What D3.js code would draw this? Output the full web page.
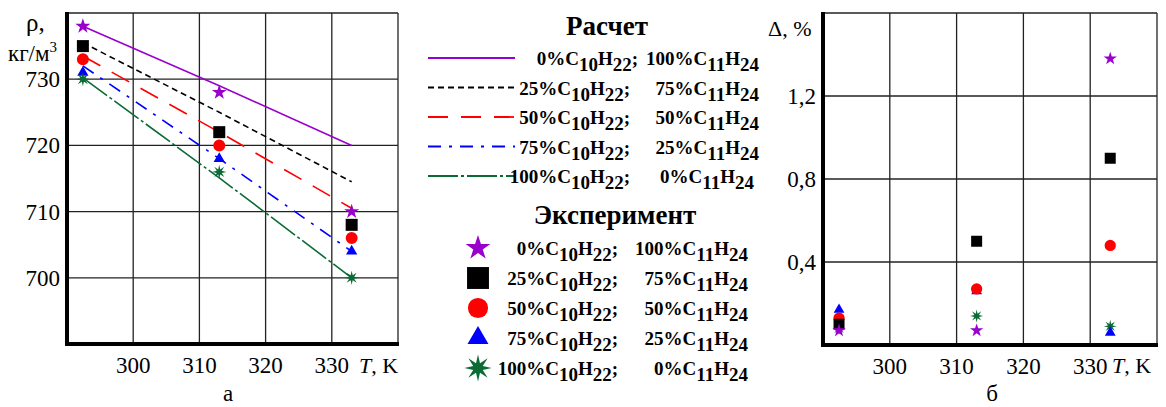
<!DOCTYPE html>
<html>
<head>
<meta charset="utf-8">
<script src="https://cdn.jsdelivr.net/npm/d3@7"></script>
<style>
  body { margin: 0; background: #fff; }
  svg text { font-family: 'Liberation Serif', 'Times New Roman', Times, serif; fill: #000; }
</style>
</head>
<body>
<svg width="1166" height="407" font-family="Liberation Serif, Times New Roman, serif"></svg>
<script>
// temperatures of the measurements, K
const temps = [292.4, 313, 333];
// mixture labels: C10H22 share, C11H24 share
const shareC10 = ['0%', '25%', '50%', '75%', '100%'];
const shareC11 = ['100%', '75%', '50%', '25%', '0%'];
// calculated density (lines), kg/m3
const calc0 = [738, 729, 720];
const calc25 = [735.5, 725, 714.5];
const calc50 = [733.5, 722, 710.5];
const calc75 = [732, 718, 704];
const calc100 = [730.2, 715.1, 700];
// experimental density (markers), kg/m3
const exp0 = [738, 728, 710];
const exp25 = [735, 722, 708];
const exp50 = [733, 720, 706];
const exp75 = [731, 718, 704];
const exp100 = [730, 716, 700];
// deviation, %
const dev0 = [0.07, 0.07, 1.38];
const dev25 = [0.1, 0.5, 0.9];
const dev50 = [0.13, 0.27, 0.48];
const dev75 = [0.17, 0.26, 0.06];
const dev100 = [0.08, 0.14, 0.09];
// axis ticks
const xTicks = [300, 310, 320, 330];
const rhoTicks = [700, 710, 720, 730];
const devTicks = [0.4, 0.8, 1.2];

const colors = ['#9900cc', '#000000', '#ff0000', '#0000ff', '#0b6b35'];
const dashes = [null, '6,4', '20,13', '13,8,3,8', '30,3,3,3'];
const calcSets = [calc0, calc25, calc50, calc75, calc100];
const expSets = [exp0, exp25, exp50, exp75, exp100];
const devSets = [dev0, dev25, dev50, dev75, dev100];

// 8-point star used for the 100% C10H22 series
const star8 = {
  draw(ctx, size) {
    const r = Math.sqrt(size) * 0.75, ri = r * 0.38;
    for (let i = 0; i < 16; i++) {
      const a = i * Math.PI / 8 - Math.PI / 2;
      const rr = i % 2 ? ri : r;
      if (i === 0) ctx.moveTo(rr * Math.cos(a), rr * Math.sin(a));
      else ctx.lineTo(rr * Math.cos(a), rr * Math.sin(a));
    }
    ctx.closePath();
  }
};
const shapes = [d3.symbolStar, d3.symbolSquare, d3.symbolCircle, d3.symbolTriangle, star8];
const sizeSmall = [70, 144, 113, 55, 90];
const sizeRight = [55, 121, 100, 50, 75];
const sizeLegend = [190, 480, 320, 190, 330];

const ru = d3.formatLocale({decimal: ',', thousands: ' ', grouping: [3], currency: ['', '']});
const fmtDev = ru.format('.1f');

const svg = d3.select('svg');

function drawFrame(x, y, yTicks, yFmt) {
  const g = svg.append('g');
  const [x0, x1] = x.range();
  const [y0, y1] = y.range();
  // grid incl. frame edges
  g.selectAll('.vg').data(d3.range(x.domain()[0], x.domain()[1] + 1, 10)).enter()
    .append('line')
    .attr('x1', d => x(d)).attr('x2', d => x(d))
    .attr('y1', y0).attr('y2', y1)
    .attr('stroke', '#222').attr('stroke-width', 1.3);
  g.selectAll('.hg').data([y.domain()[1]].concat(yTicks)).enter()
    .append('line')
    .attr('x1', x0).attr('x2', x1)
    .attr('y1', d => y(d)).attr('y2', d => y(d))
    .attr('stroke', '#222').attr('stroke-width', 1.3);
  // thick axes
  g.append('line').attr('x1', x0).attr('x2', x0).attr('y1', y0 + 2).attr('y2', y1 - 1)
    .attr('stroke', '#000').attr('stroke-width', 4);
  g.append('line').attr('x1', x0 - 2).attr('x2', x1 + 1).attr('y1', y0).attr('y2', y0)
    .attr('stroke', '#000').attr('stroke-width', 4);
  // tick labels
  g.selectAll('.xl').data(xTicks).enter().append('text')
    .attr('x', d => x(d)).attr('y', y0 + 29)
    .attr('text-anchor', 'middle').attr('font-size', 23)
    .text(d => d);
  g.selectAll('.yl').data(yTicks).enter().append('text')
    .attr('x', x0 - 7).attr('y', d => y(d) + 8)
    .attr('text-anchor', 'end').attr('font-size', 23)
    .text(yFmt);
  return g;
}

function axisTitleT(xPos, yPos) {
  const t = svg.append('text').attr('x', xPos).attr('y', yPos).attr('font-size', 22);
  t.append('tspan').attr('font-style', 'italic').text('T');
  t.append('tspan').text(', K');
}

// ---- chart a: density ----
const xA = d3.scaleLinear().domain([290, 340]).range([67, 398]);
const yA = d3.scaleLinear().domain([690, 740]).range([344, 13]);
drawFrame(xA, yA, rhoTicks, d => d);

const line = d3.line().x((d, i) => xA(temps[i])).y(d => yA(d));
svg.append('g').selectAll('path').data(calcSets).enter().append('path')
  .attr('d', line)
  .attr('fill', 'none')
  .attr('stroke', (d, i) => colors[i])
  .attr('stroke-width', 1.6)
  .attr('stroke-dasharray', (d, i) => dashes[i]);

expSets.forEach((set, k) => {
  svg.append('g').selectAll('path').data(set).enter().append('path')
    .attr('transform', (d, i) => `translate(${xA(temps[i])},${yA(d)})`)
    .attr('d', d3.symbol().type(shapes[k]).size(sizeSmall[k]))
    .attr('fill', colors[k]);
});

svg.append('text').attr('x', 26).attr('y', 31).attr('font-size', 25).text('ρ,');
const unit = svg.append('text').attr('x', 8).attr('y', 61).attr('font-size', 23);
unit.append('tspan').text('кг/м');
unit.append('tspan').attr('dy', -9).attr('font-size', 15).text('3');
axisTitleT(359, 373);
svg.append('text').attr('x', 228).attr('y', 401).attr('text-anchor', 'middle')
  .attr('font-size', 23).text('а');

// ---- chart б: deviation ----
const xB = d3.scaleLinear().domain([290, 340]).range([823, 1157]);
const yB = d3.scaleLinear().domain([0, 1.6]).range([345, 13]);
drawFrame(xB, yB, devTicks, fmtDev);

// reverse order so the circle hides the triangle as in the original
[4, 3, 2, 1, 0].forEach(k => {
  svg.append('g').selectAll('path').data(devSets[k]).enter().append('path')
    .attr('transform', (d, i) => `translate(${xB(temps[i])},${yB(d)})`)
    .attr('d', d3.symbol().type(shapes[k]).size(sizeRight[k]))
    .attr('fill', colors[k]);
});
svg.append('text').attr('x', 768).attr('y', 36).attr('font-size', 22).text('Δ, %');
axisTitleT(1112, 373);
svg.append('text').attr('x', 992).attr('y', 401).attr('text-anchor', 'middle')
  .attr('font-size', 23).text('б');

// ---- legend ----
function formula(textSel, share, idx) {
  textSel.append('tspan').text(share);
  textSel.append('tspan').text('C');
  textSel.append('tspan').attr('dy', 6).text(idx === 10 ? '10' : '11');
  textSel.append('tspan').attr('dy', -6).text('H');
  textSel.append('tspan').attr('dy', 6).text(idx === 10 ? '22' : '24');
  if (idx === 10) textSel.append('tspan').attr('dy', -6).text(';');
}

function legendRow(yBase, k, col1, col2) {
  const t1 = svg.append('text').attr('x', col1).attr('y', yBase)
    .attr('text-anchor', 'end').attr('font-size', 19).attr('font-weight', 'bold');
  formula(t1, shareC10[k], 10);
  const t2 = svg.append('text').attr('x', col2).attr('y', yBase)
    .attr('text-anchor', 'end').attr('font-size', 19).attr('font-weight', 'bold');
  formula(t2, shareC11[k], 11);
}

svg.append('text').attr('x', 607).attr('y', 35).attr('text-anchor', 'middle')
  .attr('font-size', 27).attr('font-weight', 'bold').text('Расчет');
const calcRows = d3.scaleLinear().domain([0, 4]).range([58, 176]);
colors.forEach((c, k) => {
  const yy = calcRows(k);
  svg.append('line').attr('x1', 428).attr('x2', 515).attr('y1', yy).attr('y2', yy)
    .attr('stroke', c).attr('stroke-width', 1.8)
    .attr('stroke-dasharray', dashes[k]);
  legendRow(yy + 7, k, k === 0 ? 638 : 630, k === 4 ? 754 : 759);
});

svg.append('text').attr('x', 615).attr('y', 224).attr('text-anchor', 'middle')
  .attr('font-size', 27).attr('font-weight', 'bold').text('Эксперимент');
const expRows = d3.scaleLinear().domain([0, 4]).range([248, 368]);
colors.forEach((c, k) => {
  const yy = expRows(k);
  svg.append('path').attr('transform', `translate(478,${yy})`)
    .attr('d', d3.symbol().type(shapes[k]).size(sizeLegend[k]))
    .attr('fill', c);
  legendRow(yy + 7, k, 618, 748);
});
</script>
</body>
</html>
